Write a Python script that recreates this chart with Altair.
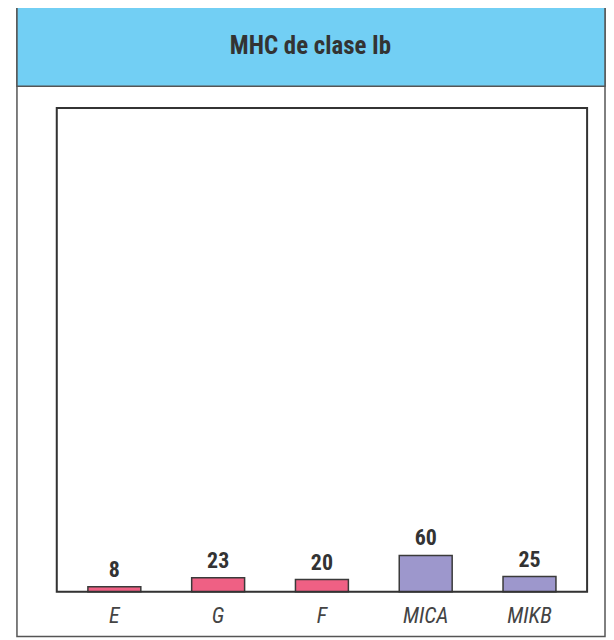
import altair as alt
import pandas as pd

genes = ["E", "G", "F", "MICA", "MIKB"]
values = [8, 23, 20, 60, 25]
groups = ["Ib", "Ib", "Ib", "MIC", "MIC"]
title_text = "MHC de clase Ib"

FONT = "Liberation Sans Narrow, Arial Narrow, Roboto Condensed, sans-serif"
W, H = 533, 486

df = pd.DataFrame({"gene": genes, "value": values, "group": groups})
one = pd.DataFrame({"k": [0]})

outer = alt.Chart(one).mark_rect(fillOpacity=0, stroke="#555555", strokeWidth=1.5).encode(
    x=alt.value(-40), x2=alt.value(551), y=alt.value(-102), y2=alt.value(531)
)
header = alt.Chart(one).mark_rect(fill="#72cff4", stroke="#555555", strokeWidth=1.5).encode(
    x=alt.value(-40), x2=alt.value(551), y=alt.value(-102), y2=alt.value(-22)
)
htext = alt.Chart(one).mark_text(
    text=title_text, font=FONT, fontSize=25, fontWeight="bold", color="#333333",
    align="center", baseline="middle"
).encode(x=alt.value(255), y=alt.value(-62))
inner = alt.Chart(one).mark_rect(fillOpacity=0, stroke="#333333", strokeWidth=2).encode(
    x=alt.value(0), x2=alt.value(W), y=alt.value(0), y2=alt.value(H)
)

xenc = alt.X("gene:N", sort=genes, title=None,
             scale=alt.Scale(paddingInner=0.49, paddingOuter=0.3),
             axis=alt.Axis(labelAngle=0, domain=False, ticks=False, labelFont=FONT,
                           labelFontSize=22, labelFontStyle="italic", labelColor="#444444",
                           labelPadding=14, zindex=1))
yenc = alt.Y("value:Q", scale=alt.Scale(domain=[0, 800]), axis=None)

bars = alt.Chart(df).mark_bar(stroke="#3a3a3a", strokeWidth=1.5).encode(
    x=xenc, y=yenc,
    color=alt.Color("group:N", scale=alt.Scale(domain=["Ib", "MIC"], range=["#ef6084", "#9d97cc"]), legend=None),
)
labels = alt.Chart(df).mark_text(
    font=FONT, fontSize=22, fontWeight="bold", color="#333333", baseline="bottom", dy=-5
).encode(x=xenc, y=yenc, text="value:Q")

chart = alt.layer(outer, header, htext, bars, labels, inner).properties(
    width=W, height=H,
    padding={"left": 8, "top": -4, "right": 0, "bottom": 0},
).configure_view(stroke=None).configure(background="white")

chart.save("out.html", embed_options={"renderer": "svg", "actions": False})
